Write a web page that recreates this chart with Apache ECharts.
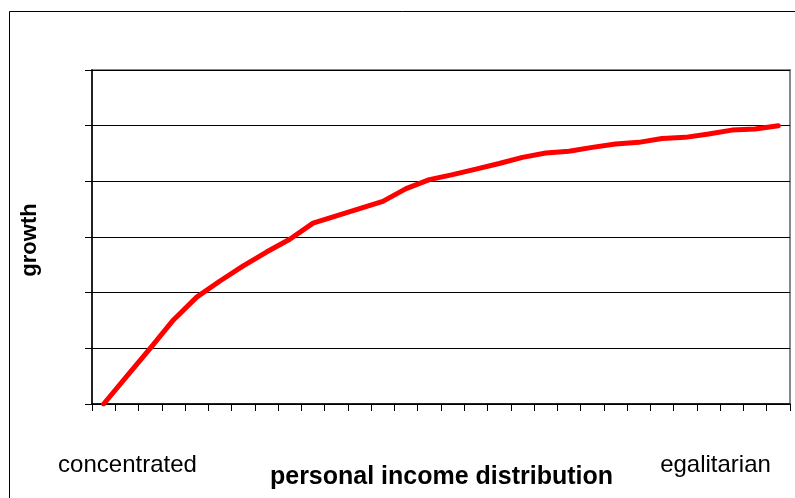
<!DOCTYPE html>
<html>
<head>
<meta charset="utf-8">
<title>growth vs personal income distribution</title>
<script src="https://cdn.jsdelivr.net/npm/echarts@6/dist/echarts.min.js"></script>
<style>
  html, body { margin: 0; padding: 0; background: #fff; }
  #chart { width: 795px; height: 498px; }
</style>
</head>
<body>
<div id="chart"></div>
<script>
// Steps along the income-distribution axis, from concentrated to egalitarian
const categories = Array.from({ length: 30 }, (_, i) => String(i + 1));

// Growth at each step
const growth = [
  0.00, 0.50, 1.00, 1.51, 1.92, 2.21, 2.48, 2.73, 2.96, 3.25,
  3.38, 3.51, 3.64, 3.87, 4.03, 4.12, 4.22, 4.32, 4.43, 4.51,
  4.54, 4.61, 4.67, 4.70, 4.77, 4.79, 4.85, 4.92, 4.94, 5.00
];

// End labels under the horizontal axis
const endLabels = ['concentrated', 'egalitarian'];
const xTitle = 'personal income distribution';
const yTitle = 'growth';

const chart = echarts.init(document.getElementById('chart'), null, { renderer: 'canvas' });

chart.setOption({
  animation: false,
  backgroundColor: '#ffffff',
  grid: {
    left: 92, top: 70, right: 5, bottom: 94,
    show: true,
    borderColor: '#888888',
    borderWidth: 2,
    backgroundColor: 'transparent'
  },
  xAxis: {
    type: 'category',
    data: categories,
    boundaryGap: true,
    axisLine: { lineStyle: { color: '#000', width: 1.5 } },
    axisTick: { show: true, interval: 0, length: 7, lineStyle: { color: '#000', width: 1 } },
    axisLabel: { show: false },
    splitLine: { show: false }
  },
  yAxis: {
    type: 'value',
    min: 0, max: 6, interval: 1,
    axisLine: { show: true, lineStyle: { color: '#000', width: 1.5 } },
    axisTick: { show: true, length: 7, lineStyle: { color: '#000', width: 1 } },
    axisLabel: { show: false },
    splitLine: { show: true, lineStyle: { color: '#000', width: 1 } }
  },
  series: [{
    type: 'line',
    data: growth,
    symbol: 'none',
    smooth: false,
    lineStyle: { color: '#ff0000', width: 5, cap: 'round', join: 'round' }
  }],
  graphic: [
    {
      type: 'rect',
      silent: true,
      shape: { x: 9.5, y: 11.5, width: 820, height: 520 },
      style: { fill: 'none', stroke: '#000', lineWidth: 1 }
    },
    {
      type: 'text',
      x: 127.5, y: 465,
      style: {
        text: endLabels[0],
        fill: '#000',
        font: '24px "Liberation Sans", Arial, sans-serif',
        textAlign: 'center', textVerticalAlign: 'middle'
      }
    },
    {
      type: 'text',
      x: 715.5, y: 465,
      style: {
        text: endLabels[1],
        fill: '#000',
        font: '24px "Liberation Sans", Arial, sans-serif',
        textAlign: 'center', textVerticalAlign: 'middle'
      }
    },
    {
      type: 'text',
      x: 441.5, y: 477,
      style: {
        text: xTitle,
        fill: '#000',
        font: 'bold 25px "Liberation Sans", Arial, sans-serif',
        textAlign: 'center', textVerticalAlign: 'middle'
      }
    },
    {
      type: 'text',
      x: 30, y: 240,
      rotation: Math.PI / 2,
      style: {
        text: yTitle,
        fill: '#000',
        font: 'bold 22px "Liberation Sans", Arial, sans-serif',
        textAlign: 'center', textVerticalAlign: 'middle'
      }
    }
  ]
});
</script>
</body>
</html>
